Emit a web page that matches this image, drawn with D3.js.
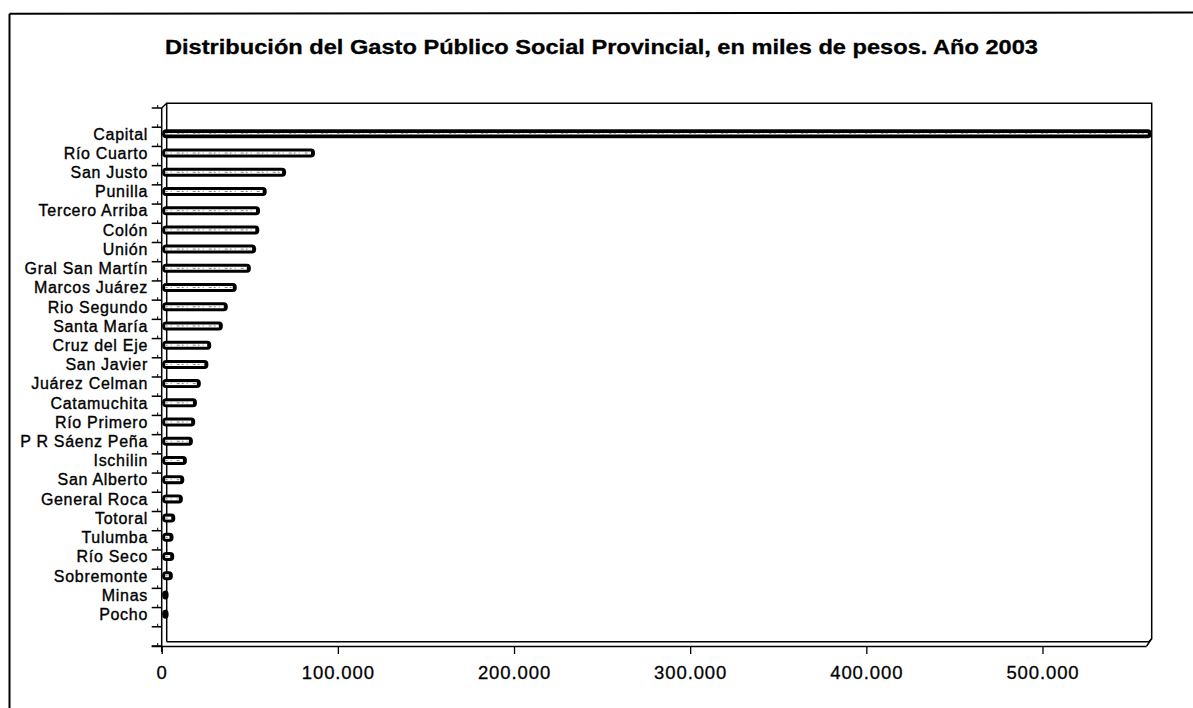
<!DOCTYPE html>
<html>
<head>
<meta charset="utf-8">
<script src="https://cdn.jsdelivr.net/npm/d3@7"></script>
<style>
  html, body { margin: 0; padding: 0; background: #fff; }
  svg { display: block; }
  text { font-family: "Liberation Sans", Arial, sans-serif; fill: #000; }
</style>
</head>
<body>
<svg id="chart" width="1193" height="708"></svg>
<script>
// ---- Data (miles de pesos, año 2003) ----
const title = "Distribución del Gasto Público Social Provincial, en miles de pesos. Año 2003";
const categories = [
  "Capital", "Río Cuarto", "San Justo", "Punilla", "Tercero Arriba", "Colón",
  "Unión", "Gral San Martín", "Marcos Juárez", "Rio Segundo", "Santa María",
  "Cruz del Eje", "San Javier", "Juárez Celman", "Catamuchita", "Río Primero",
  "P R Sáenz Peña", "Ischilin", "San Alberto", "General Roca", "Totoral",
  "Tulumba", "Río Seco", "Sobremonte", "Minas", "Pocho"
];
const values = [
  562000, 87000, 70600, 59600, 55800, 55400,
  53600, 50600, 42600, 37500, 34700,
  28100, 26500, 22200, 20000, 19000,
  17700, 14300, 12800, 12000, 7700,
  6700, 7100, 6300, 3900, 3900
];
const xTickValues = [0, 100000, 200000, 300000, 400000, 500000];

// ---- Layout ----
const svg = d3.select("#chart");
const plotLeft = 161.7, plotRight = 1151.7;
const backLeft = 166.7, backTop = 103.3, backBottom = 641.7;
const frontTop = 108, frontBottom = 646;

const x = d3.scaleLinear().domain([0, 562000]).range([plotLeft, plotRight]);

const nSlots = categories.length + 2;          // one empty slot above, one below
const step = (643 - 105) / nSlots;
const y = d3.scaleBand().domain(categories).range([105 + step, 643 - step]).padding(0);

const stepF = (frontBottom - frontTop) / nSlots;

const locale = d3.formatLocale({ decimal: ",", thousands: ".", grouping: [3], currency: ["$", ""] });
const fmt = locale.format(",d");

// Outer frame (left and top)
svg.append("line").attr("x1", 9.5).attr("y1", 13.7).attr("x2", 9.5).attr("y2", 708)
  .attr("stroke", "#000").attr("stroke-width", 2);
svg.append("line").attr("x1", 9.5).attr("y1", 13.7).attr("x2", 1193).attr("y2", 12.5)
  .attr("stroke", "#000").attr("stroke-width", 2);

// Title
svg.append("text")
  .attr("x", 601.5).attr("y", 54)
  .attr("text-anchor", "middle")
  .attr("font-size", 20).attr("font-weight", "bold")
  .attr("textLength", 873).attr("lengthAdjust", "spacingAndGlyphs")
  .attr("stroke", "#000").attr("stroke-width", 0.3)
  .text(title);

// Back wall frame of the plot area
const back = svg.append("g").attr("fill", "none").attr("stroke", "#000").attr("stroke-width", 1.5);
back.append("path")
  .attr("d", `M${backLeft},${backBottom} L${backLeft},${backTop} L${plotRight},${backTop} L${plotRight},${backBottom - 3} L${plotRight - 3},${backBottom} L${backLeft},${backBottom}`);
back.append("path").attr("d", `M${plotLeft},${frontTop} L${backLeft},${backTop}`);
back.append("path").attr("d", `M${plotRight},${backBottom - 3} L${plotRight - 5},${frontBottom}`);

// Front y axis line + ticks at band boundaries
const front = svg.append("g").attr("stroke", "#000").attr("stroke-width", 1.5);
front.append("line").attr("x1", plotLeft).attr("y1", frontTop).attr("x2", plotLeft).attr("y2", frontBottom + 6);
d3.range(nSlots + 1).forEach(i => {
  const yy = frontTop + i * stepF;
  front.append("line").attr("x1", plotLeft - 10).attr("x2", plotLeft).attr("y1", yy).attr("y2", yy);
  front.append("line").attr("x1", plotLeft - 4).attr("x2", plotLeft - 4).attr("y1", yy).attr("y2", yy - 3)
    .attr("stroke-width", 1);
});

// Front x axis via d3 axis
const xAxis = d3.axisBottom(x).tickValues(xTickValues).tickFormat(fmt).tickSize(8).tickPadding(12);
const gx = svg.append("g").attr("transform", `translate(0,${frontBottom})`).call(xAxis);
gx.select(".domain").attr("d", `M${plotLeft - 10},0.5H${plotRight - 5}`).attr("stroke-width", 1.5);
gx.selectAll(".tick line").attr("stroke", "#000").attr("stroke-width", 1.3);
gx.selectAll(".tick text")
  .attr("font-size", 18.5).attr("fill", "#000")
  .attr("font-family", "'Liberation Sans', Arial, sans-serif")
  .attr("stroke", "#000").attr("stroke-width", 0.3)
  .style("letter-spacing", "0.9px");

// Category labels
svg.append("g").selectAll("text").data(categories).join("text")
  .attr("x", 148)
  .attr("y", d => y(d) + y.bandwidth() / 2)
  .attr("dy", "0.36em")
  .attr("text-anchor", "end")
  .attr("font-size", 16)
  .attr("stroke", "#000").attr("stroke-width", 0.35)
  .style("letter-spacing", "0.7px")
  .text(d => d);

// Bars
const barH = 9;
const bars = svg.append("g").selectAll("g").data(categories.map((c, i) => ({ c, v: values[i] }))).join("g");
bars.append("rect")
  .attr("x", x(0) + 0.5)
  .attr("y", d => y(d.c) + y.bandwidth() / 2 - barH / 2)
  .attr("width", d => Math.max(5, x(d.v) - x(0) - 0.5))
  .attr("height", barH)
  .attr("rx", 4).attr("ry", 4)
  .attr("fill", "#000");
bars.filter(d => x(d.v) - x(0) > 9).append("line")
  .attr("x1", x(0) + 3.5)
  .attr("x2", d => x(d.v) - 4)
  .attr("y1", d => y(d.c) + y.bandwidth() / 2)
  .attr("y2", d => y(d.c) + y.bandwidth() / 2)
  .attr("stroke", "#fff")
  .attr("stroke-width", d => d.v > 400000 ? 1.6 : 3);
bars.filter(d => x(d.v) - x(0) > 9).append("line")
  .attr("x1", x(0) + 4)
  .attr("x2", d => x(d.v) - 5)
  .attr("y1", d => y(d.c) + y.bandwidth() / 2)
  .attr("y2", d => y(d.c) + y.bandwidth() / 2)
  .attr("stroke", "#888")
  .attr("stroke-width", 1)
  .attr("stroke-dasharray", "2,3,1,5,3,2");
</script>
</body>
</html>
